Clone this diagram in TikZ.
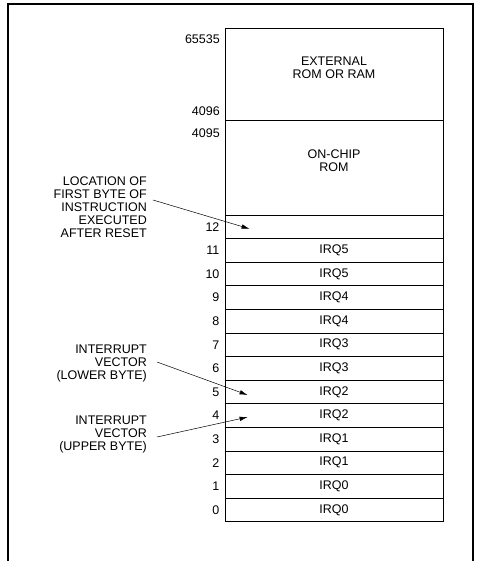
\documentclass[tikz,border=0pt]{standalone}
\usepackage{fontspec}
\setmainfont{Liberation Sans}
\usetikzlibrary{arrows.meta}

\begin{document}
\begin{tikzpicture}[x=1pt, y=-1pt,
  every node/.style={font=\fontsize{12.5}{13}\selectfont, inner sep=0pt},
  cell/.style={draw, line width=0.8pt, minimum width=218pt, minimum height=23.6pt},
  addr/.style={anchor=east},
  note/.style={align=right, anchor=east},
  pointer/.style={line width=0.5pt, -{Latex[length=8pt,width=4.5pt]}}]

\useasboundingbox (0,0) rectangle (478,561);

% frame, open at the foot
\draw[line width=1.2pt] (8,561) -- (8,4) -- (473,4) -- (473,561);

% upper blocks
\node[cell, minimum height=92pt] (ext) at (334,74) {};
\node[cell, minimum height=95pt] (rom) at (334,167.5) {};
\node[align=center] (extname) at (334,68) {EXTERNAL\\ROM OR RAM};
\node[align=center] (romname) at (334,161) {ON-CHIP\\ROM};
\node[addr] (a65535) at (220,39) {65535};
\node[addr] (a4096) at (220,111) {4096};
\node[addr] (a4095) at (220,133) {4095};

% byte rows 0..12
\foreach \i in {0,...,12} {
  \pgfmathsetmacro{\ypos}{215 + (12 - \i) * 23.6 + 11.8}
  \pgfmathtruncatemacro{\irq}{\i / 2}
  \node[cell] (r\i) at (334,\ypos) {\ifnum\i<12 IRQ\irq\fi};
  \node[addr] (n\i) at ([xshift=-5pt]r\i.west) {\i};
}

% notes
\node[note] (reset) at (147,207) {LOCATION OF\\FIRST BYTE OF\\INSTRUCTION\\EXECUTED\\AFTER RESET};
\node[note] (lowbyte) at (147,363) {INTERRUPT\\VECTOR\\(LOWER BYTE)};
\node[note] (highbyte) at (147,434) {INTERRUPT\\VECTOR\\(UPPER BYTE)};

\draw[pointer] ([xshift=6pt,yshift=7pt]reset.east) -- ([xshift=25pt,yshift=-2pt]r12.west);
\draw[pointer] ([xshift=10pt,yshift=1pt]lowbyte.east) -- ([xshift=23pt,yshift=-3pt]r5.west);
\draw[pointer] ([xshift=10pt,yshift=-3pt]highbyte.east) -- ([xshift=23pt,yshift=-1.5pt]r4.west);

\end{tikzpicture}
\end{document}
